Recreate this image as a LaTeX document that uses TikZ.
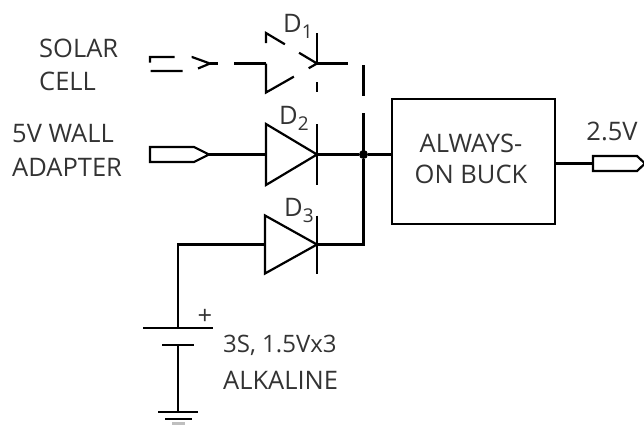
\documentclass[tikz,border=0pt]{standalone}
\usepackage{fontspec}
\setmainfont{Open Sans}
\usetikzlibrary{calc}

\newcommand{\dsub}[1]{\raisebox{-6pt}{\fontsize{19}{19}\selectfont #1}}

\tikzset{
  wire/.style={line width=2.2pt, line join=miter, black},
  lbl/.style={inner sep=0pt, anchor=base west, text=black!80, font=\fontsize{25.5}{25.5}\selectfont},
  ctr/.style={lbl, anchor=base},
  dot/.style={circle, fill=black, inner sep=0pt, minimum size=9pt},
  buck/.style={draw, line width=2.2pt, minimum width=163pt, minimum height=125pt, inner sep=0pt},
}

\begin{document}
\begin{tikzpicture}[x=1pt, y=-1pt]
        \useasboundingbox (0, 0) rectangle (644, 424);

        % named points
        \coordinate (S1) at (210, 63.5);
        \coordinate (A1) at (266, 63.5);
        \coordinate (K1) at (317, 63.5);
        \coordinate (S2) at (209, 154.5);
        \coordinate (A2) at (266, 154.5);
        \coordinate (K2) at (317, 154.5);
        \coordinate (A3) at (265, 244.5);
        \coordinate (K3) at (317, 244.5);
        \coordinate (Bat1) at (178, 328);
        \coordinate (Bat2) at (178, 345);
        \coordinate (Gnd) at (178, 412);
        \node[dot] (J) at (363.5, 154.5) {};
        \node[buck] (Buck) at (473.5, 161.5) {};
        \coordinate (Out) at (593, 163.5);
        \coordinate (Tip) at (645, 163.5);

        % solar cell, all of it broken
        \draw[wire, dash pattern=on 13pt off 16pt on 32pt off 9pt on 30pt off 17pt on 19pt]
          (S1) -- (192, 71) -- (150, 71) -- (150, 57) -- (192, 57) -- cycle;
        \draw[wire, dash pattern=on 8pt off 16pt on 32pt off 99pt] (S1) -- (A1);
        \draw[wire, dash pattern=on 32pt off 16.5pt on 30.5pt off 17pt on 61pt]
          ($(A1)+(0,-20.5)$) -- ($(A1)+(0,-30.5)$) -- (K1) -- ($(A1)+(0,29)$) -- (A1);
        \draw[wire, dash pattern=on 30.5pt off 18.5pt on 10pt off 99pt]
          ($(K1)+(0,-30.5)$) -- ($(K1)+(0,29)$);
        \draw[wire, dash pattern=on 31pt off 17pt on 31pt off 17pt on 41pt]
          (K1) -| (J.center);

        % wall adapter
        \draw[wire] (S2) -- (194, 162) -- (150, 162) -- (150, 147) -- (194, 147) -- cycle;
        \draw[wire] (S2) -- (A2);
        \draw[wire] ($(A2)+(0,-30.5)$) -- (K2) -- ($(A2)+(0,30.5)$) -- cycle;
        \draw[wire] ($(K2)+(0,-30.5)$) -- ($(K2)+(0,30.5)$);
        \draw[wire] (K2) -- (J) -- (Buck.west |- J);

        % alkaline
        \draw[wire] (Bat1) |- (A3);
        \draw[wire] ($(A3)+(0,-29)$) -- (K3) -- ($(A3)+(0,29)$) -- cycle;
        \draw[wire] ($(K3)+(0,-29)$) -- ($(K3)+(0,29)$);
        \draw[wire] (K3) -| (J);
        \draw[wire] ($(Bat1)+(-35,0)$) -- ($(Bat1)+(35,0)$);
        \draw[wire] ($(Bat2)+(-16,0)$) -- ($(Bat2)+(16,0)$);
        \draw[wire] (Bat2) -- (Gnd);
        \draw[wire] ($(Gnd)+(-20,0)$) -- ($(Gnd)+(20,0)$);
        \draw[wire] ($(Gnd)+(-13,7)$) -- ($(Gnd)+(14,7)$);
        \draw[wire, black!25] ($(Gnd)+(-6,11.5)$) -- ($(Gnd)+(7,11.5)$);

        % output
        \draw[wire] (Buck.east |- Out) -- (Out);
        \draw[wire] (Out) -- (593, 156) -- (637, 156) -- (Tip) -- (637, 171) -- (593, 171) -- cycle;

        % labels
        \node[lbl] (LabSolar) at (39, 57) {SOLAR};
        \node[lbl] (LabCell) at (39, 90) {CELL};
        \node[lbl] (LabWall) at (12, 142) {5V WALL};
        \node[lbl] (LabAdapt) at (12, 176) {ADAPTER};
        \node[lbl] (LabD1) at (283, 32) {D\dsub{1}};
        \node[lbl] (LabD2) at (279, 124) {D\dsub{2}};
        \node[lbl] (LabD3) at (284, 216) {D\dsub{3}};
        \node[ctr] (LabAlways) at (471, 152) {ALWAYS-};
        \node[ctr] (LabOn) at (471, 183) {ON BUCK};
        \node[ctr] (LabOut) at (612, 140) {2.5V};
        \node[ctr] (LabPlus) at (205, 324) {+};
        \node[lbl, font=\fontsize{24}{24}\selectfont] (LabCount) at (223, 352) {3S, 1.5Vx3};
        \node[lbl] (LabAlk) at (223, 389) {ALKALINE};
      \end{tikzpicture}
\end{document}
